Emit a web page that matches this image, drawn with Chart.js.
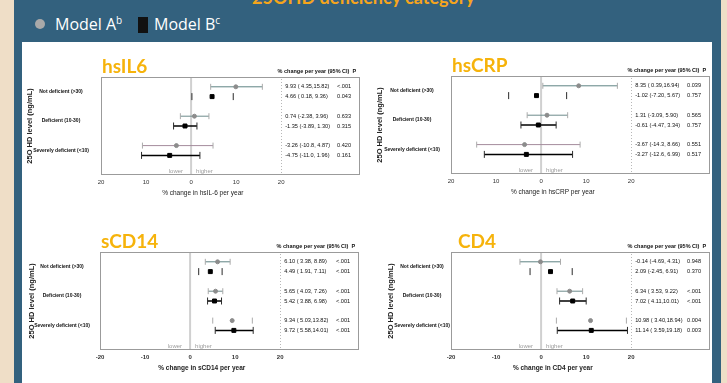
<!DOCTYPE html>
<html>
<head>
<meta charset="utf-8">
<script src="https://cdn.jsdelivr.net/npm/chart.js@4.4.1/dist/chart.umd.min.js"></script>
<style>
body{margin:0;width:727px;height:383px;overflow:hidden;background:#efdec7;position:relative}
#azul{position:absolute;left:14px;top:0;width:707px;height:383px;background:#33617e}
#blanco{position:absolute;left:22px;top:42px;width:690px;height:341px;background:#fff}
#titulo{position:absolute;left:0;width:727px;top:-12px;text-align:center;font:bold 18px/18px Lato;color:#f5a51c;white-space:nowrap}
.ley{position:absolute;top:14px;font:16px/20px "Open Sans";color:#fff;white-space:nowrap}
.ley sup{font-size:10px;line-height:0}
canvas{position:absolute}
</style>
</head>
<body>
<div id="azul"></div>
<div id="blanco"></div>
<div id="titulo">25OHD deficiency category</div>
<div style="position:absolute;left:35px;top:19px;width:10px;height:10px;border-radius:50%;background:#a9a9a9"></div>
<div class="ley" style="left:55px">Model A<sup>b</sup></div>
<div style="position:absolute;left:138px;top:17px;width:10px;height:16px;background:#111"></div>
<div class="ley" style="left:154px">Model B<sup>c</sup></div>

<canvas id="g1" width="344" height="153" style="left:21px;top:50px"></canvas>
<canvas id="g2" width="344" height="153" style="left:371px;top:49px"></canvas>
<canvas id="g3" width="344" height="153" style="left:20px;top:225px"></canvas>
<canvas id="g4" width="344" height="153" style="left:371px;top:225px"></canvas>

<script>
const categorias = ['Not deficient (>30)', 'Deficient (10-30)', 'Severely deficient (<10)'];
const modelos = ['Model A', 'Model B'];
const ticksX = [-20, -10, 0, 10, 20];

// filas: A y B de cada categoria
const il6Est = [9.93, 4.66, 0.74, -1.35, -3.26, -4.75];
const il6Lo  = [4.35, 0.18, -2.38, -3.89, -10.8, -11.0];
const il6Hi  = [15.82, 9.36, 3.96, 1.30, 4.87, 1.96];
const il6P   = ['<.001', '0.043', '0.633', '0.315', '0.420', '0.161'];

const crpEst = [8.35, -1.02, 1.31, -0.61, -3.67, -3.27];
const crpLo  = [0.39, -7.20, -3.09, -4.47, -14.3, -12.6];
const crpHi  = [16.94, 5.67, 5.90, 3.34, 8.66, 6.99];
const crpP   = ['0.039', '0.757', '0.565', '0.757', '0.551', '0.517'];

const cd14Est = [6.10, 4.49, 5.65, 5.42, 9.34, 9.72];
const cd14Lo  = [3.38, 1.91, 4.03, 3.88, 5.03, 5.58];
const cd14Hi  = [8.89, 7.11, 7.26, 6.98, 13.82, 14.01];
const cd14P   = ['<.001', '<.001', '<.001', '<.001', '<.001', '<.001'];

const cd4Est = [-0.14, 2.09, 6.34, 7.02, 10.98, 11.14];
const cd4Lo  = [-4.69, -2.45, 3.53, 4.11, 3.40, 3.59];
const cd4Hi  = [4.31, 6.91, 9.22, 10.01, 18.94, 19.18];
const cd4P   = ['0.948', '0.370', '<.001', '<.001', '0.004', '0.003'];

const fuente = '"Liberation Sans", Arial, sans-serif';
const coloresA = ['#5f8383', '#6d8b8b', '#a48c9c'];

const paneles = [
  {canvas:'g1', nombre:'hsIL6', tituloX:'% change in hsIL-6 per year', est:il6Est, lo:il6Lo, hi:il6Hi, p:il6P, sinLinea:[1], sinMenos:true, negrita:false, dxTitulo:1, dxCat:40, dxEje:71},
  {canvas:'g2', nombre:'hsCRP', tituloX:'% change in hsCRP per year', est:crpEst, lo:crpLo, hi:crpHi, p:crpP, sinLinea:[1], sinMenos:true, negrita:false, dxTitulo:1, dxCat:39, dxEje:71},
  {canvas:'g3', nombre:'sCD14', tituloX:'% change in sCD14 per year', est:cd14Est, lo:cd14Lo, hi:cd14Hi, p:cd14P, sinLinea:[1,4], sinMenos:false, negrita:true, dxTitulo:1, dxCat:38, dxEje:68},
  {canvas:'g4', nombre:'CD4', tituloX:'% change in CD4 per year', est:cd4Est, lo:cd4Lo, hi:cd4Hi, p:cd4P, sinLinea:[1,4], sinMenos:false, negrita:true, dxTitulo:7, dxCat:29, dxEje:60}
];

const posFila = i => Math.floor(i / 2) * 3 + (i % 2) + 1;
const num = n => n <= -10 ? n.toFixed(1) : n.toFixed(2);
const pad = n => (n >= 0 && n < 10 ? ' ' : '') + num(n);
const textoIC = (v, lo, hi) => `${num(v)} (${pad(lo)},${pad(hi)})`;

const extra = p => ({
  id: 'extra',
  beforeDatasetsDraw(chart) {
    const {ctx, chartArea: a, scales: {x}} = chart;
    ctx.save();
    //linea del cero
    const x0 = x.getPixelForValue(0);
    ctx.strokeStyle = '#d0d0d0'; ctx.lineWidth = 2;
    ctx.beginPath(); ctx.moveTo(x0, a.top); ctx.lineTo(x0, a.bottom); ctx.stroke();
    //punteada que separa la tabla
    const x20 = Math.round(x.getPixelForValue(20)) + 0.5;
    ctx.strokeStyle = '#b8b8b8'; ctx.lineWidth = 1; ctx.setLineDash([1, 2]);
    ctx.beginPath(); ctx.moveTo(x20, a.top + 2); ctx.lineTo(x20, a.bottom - 1); ctx.stroke();
    ctx.restore();
  },
  afterDraw(chart) {
    const {ctx, chartArea: a, scales: {x, y}} = chart;
    ctx.save();
    ctx.strokeStyle = '#9b9b9b'; ctx.lineWidth = 1;
    ctx.strokeRect(a.left + 0.5, a.top + 0.5, a.right - a.left - 1, a.bottom - a.top - 1);

    ctx.fillStyle = '#f6b30b'; ctx.font = 'bold 19px Lato';
    ctx.textAlign = 'left'; ctx.textBaseline = 'alphabetic';
    ctx.fillText(p.nombre, a.left + p.dxTitulo, a.top - 4.5);

    //tabla
    ctx.fillStyle = '#111'; ctx.textBaseline = 'middle';
    ctx.font = `bold 5.5px ${fuente}`;
    ctx.fillText('% change per year (95% CI)  P', x.getPixelForValue(19.2), a.top - 6);
    ctx.font = `5.6px ${fuente}`;
    p.est.forEach((v, i) => {
      const py = y.getPixelForValue(posFila(i));
      ctx.fillText(textoIC(v, p.lo[i], p.hi[i]), x.getPixelForValue(20.9), py);
      ctx.fillText(p.p[i], x.getPixelForValue(32.4), py);
    });

    //categorias
    ctx.font = `bold 5px ${fuente}`; ctx.textAlign = 'center';
    categorias.forEach((c, g) => ctx.fillText(c, a.left - p.dxCat, y.getPixelForValue(g * 3 + 1.5)));

    //titulo del eje y
    ctx.save();
    ctx.translate(a.left - p.dxEje, (a.top + a.bottom) / 2);
    ctx.rotate(-Math.PI / 2);
    ctx.font = `bold 7.5px ${fuente}`; ctx.fillStyle = '#222';
    ctx.fillText('25O HD level (ng/mL)', 0, 0);
    ctx.restore();

    //titulo del eje x
    ctx.font = `${p.negrita ? 'bold ' : ''}6.5px ${fuente}`; ctx.fillStyle = '#222';
    ctx.textAlign = 'center';
    ctx.fillText(p.tituloX, x.getPixelForValue(2.6), a.bottom + 18.5);

    //lower / higher
    const x0 = x.getPixelForValue(0);
    ctx.font = `6px ${fuente}`; ctx.fillStyle = '#9d9d9d'; ctx.textBaseline = 'bottom';
    ctx.textAlign = 'right'; ctx.fillText('lower', x0 - 8, a.bottom - 1);
    ctx.textAlign = 'left'; ctx.fillText('higher', x0 + 5, a.bottom - 1);
    ctx.restore();
  }
});

paneles.forEach(p => {
  const conjuntos = [];
  //intervalos de confianza
  p.est.forEach((_, i) => {
    const esB = i % 2 === 1;
    const y = posFila(i);
    conjuntos.push({
      data: [{x: p.lo[i], y}, {x: p.hi[i], y}],
      showLine: !p.sinLinea.includes(i),
      borderColor: esB ? '#000' : coloresA[Math.floor(i / 2)],
      borderWidth: esB ? 1.5 : 1,
      pointStyle: 'line',
      pointRotation: 90,
      pointRadius: esB ? 3.5 : 3,
      pointBorderColor: esB ? '#2b2b2b' : '#ababab',
      pointBorderWidth: 1,
      order: 2
    });
  });
  //estimados
  [0, 1].forEach(m => {
    conjuntos.push({
      label: modelos[m],
      data: p.est.map((v, i) => ({x: v, y: posFila(i)})).filter((_, i) => i % 2 === m),
      pointStyle: m ? 'rect' : 'circle',
      pointRadius: m ? 2.8 : 2,
      pointBackgroundColor: m ? '#000' : '#8c8c8c',
      pointBorderColor: m ? '#000' : '#8c8c8c',
      pointBorderWidth: 1,
      order: 0
    });
  });

  new Chart(document.getElementById(p.canvas), {
    type: 'scatter',
    data: {datasets: conjuntos},
    options: {
      responsive: false,
      animation: false,
      events: [],
      layout: {padding: {left: 80, right: 4, top: 27, bottom: 0}},
      plugins: {legend: {display: false}, tooltip: {enabled: false}},
      scales: {
        x: {
          type: 'linear', min: -20, max: 37.5,
          afterBuildTicks: s => { s.ticks = ticksX.map(v => ({value: v})); },
          afterFit: s => { s.height = 28; },
          grid: {display: false, drawTicks: false},
          border: {display: false},
          ticks: {
            padding: 4, color: '#333', maxRotation: 0, autoSkip: false,
            font: {family: fuente, size: 6, weight: p.negrita ? 'bold' : 'normal'},
            callback: v => p.sinMenos ? Math.abs(v) : v
          },
          title: {display: false}
        },
        y: {type: 'linear', min: 0, max: 10, reverse: true, display: false}
      }
    },
    plugins: [extra(p)]
  });
});
</script>
</body>
</html>
